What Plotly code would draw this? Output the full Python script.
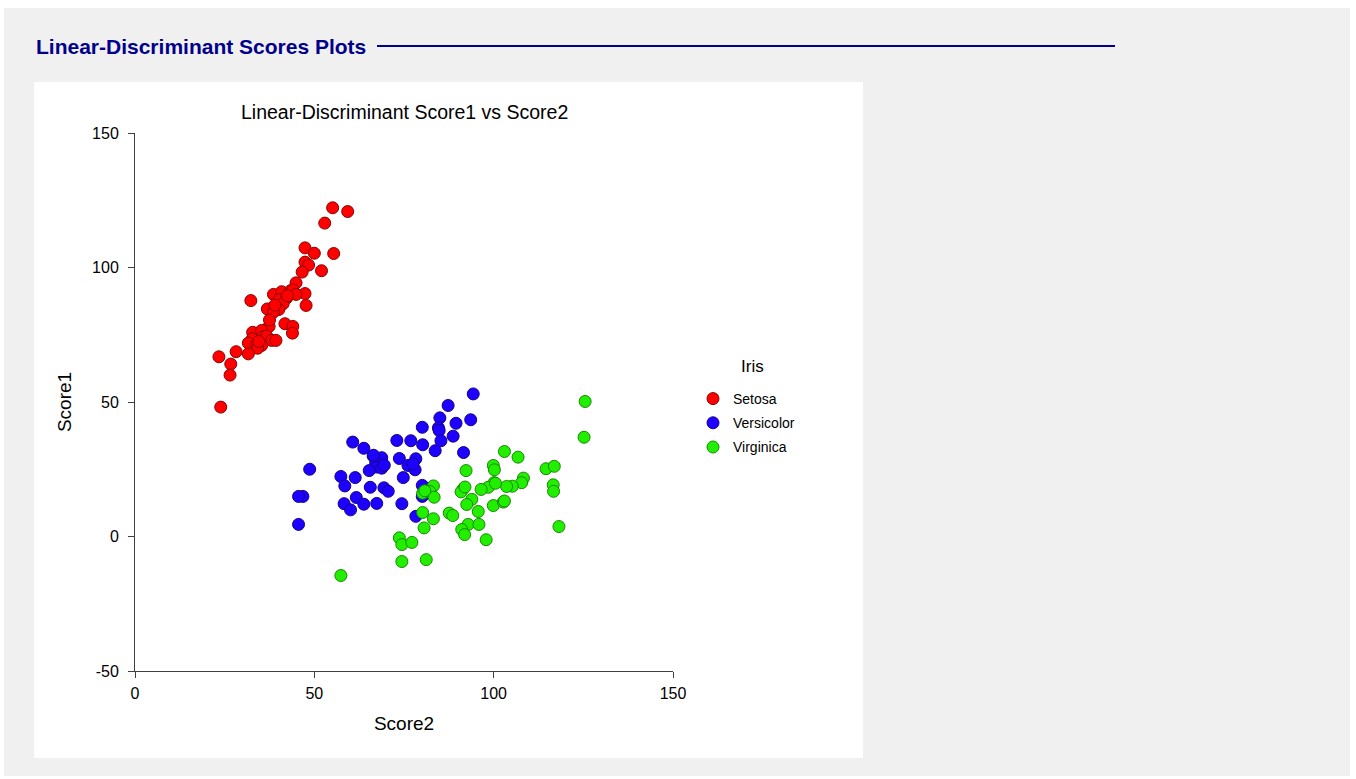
import plotly.graph_objects as go

# Linear-discriminant scores for the three iris species
setosa_score2 = [55.1, 59.3, 52.9, 47.4, 50.0, 55.4, 47.4, 48.4, 46.6, 52.0,
                 44.9, 38.6, 40.9, 43.4, 44.0, 47.4, 44.9, 40.2, 42.3, 32.3,
                 41.3, 47.7, 36.9, 40.1, 38.6, 41.8, 44.0, 43.9, 37.4, 32.8,
                 35.3, 35.8, 32.7, 36.7, 38.1, 39.3, 31.6, 33.9, 35.3, 34.2,
                 31.6, 28.2, 23.4, 26.7, 26.5, 23.9, 37.5, 42.5, 34.5, 39.0]
setosa_score1 = [122.2, 120.8, 116.5, 107.3, 105.3, 105.2, 102.0, 100.9, 98.3, 98.8,
                 94.3, 90.0, 91.0, 91.4, 91.7, 90.3, 90.0, 88.1, 88.7, 87.7,
                 86.5, 85.9, 84.6, 84.4, 83.4, 79.1, 78.1, 75.6, 78.1, 75.9,
                 76.6, 74.3, 73.5, 74.5, 72.9, 72.9, 71.9, 71.4, 71.0, 70.0,
                 67.9, 68.7, 66.8, 64.1, 60.0, 48.1, 80.5, 89.5, 72.5, 86.0]

versicolor_score2 = [94.3, 87.3, 85.0, 93.6, 89.5, 80.1, 84.6, 84.8, 88.7, 85.3,
                     73.0, 76.9, 80.2, 60.7, 63.8, 83.7, 91.6, 66.4, 68.8, 73.7,
                     78.3, 67.1, 76.1, 67.4, 65.3, 68.8, 78.1, 48.7, 57.4, 61.4,
                     74.8, 58.5, 65.6, 69.4, 70.6, 80.1, 61.7, 46.8, 45.6, 58.3,
                     63.8, 67.4, 74.4, 60.1, 78.3, 45.6, 80.1, 77.5, 69.5, 66.5]
versicolor_score1 = [53.0, 48.7, 44.1, 43.4, 42.1, 40.6, 40.4, 39.4, 37.3, 35.6,
                     35.7, 35.6, 34.1, 35.1, 32.8, 31.9, 31.2, 29.9, 29.3, 29.0,
                     28.9, 27.4, 26.4, 25.8, 24.5, 25.4, 24.8, 25.0, 22.3, 21.9,
                     21.9, 18.8, 18.3, 18.1, 16.8, 19.0, 14.5, 14.9, 14.9, 12.2,
                     12.0, 12.3, 12.2, 9.9, 7.5, 4.5, 14.9, 27.0, 26.5, 30.2]

virginica_score2 = [125.5, 125.2, 103.0, 106.8, 92.3, 99.9, 100.2, 114.6, 116.9, 108.3,
                    107.8, 105.2, 103.6, 100.1, 98.5, 96.5, 116.6, 116.7, 83.2, 82.2,
                    83.4, 80.2, 91.5, 90.9, 93.9, 92.5, 99.9, 102.7, 95.7, 87.6,
                    88.6, 80.2, 83.2, 80.6, 92.9, 95.9, 91.1, 91.9, 118.2, 97.9,
                    73.7, 74.4, 77.2, 74.4, 81.2, 57.4, 80.8, 92.0, 103.0, 100.5]
virginica_score1 = [50.2, 36.9, 31.6, 29.5, 24.5, 26.4, 24.8, 25.2, 26.1, 21.7,
                    20.0, 18.7, 18.6, 20.0, 18.3, 17.5, 19.2, 16.8, 18.8, 16.7,
                    14.6, 16.1, 17.7, 16.6, 13.8, 11.9, 11.5, 12.8, 9.3, 8.7,
                    7.8, 8.9, 6.6, 3.2, 4.5, 4.5, 2.6, 0.7, 3.7, -1.2,
                    -0.5, -3.0, -2.2, -9.3, -8.6, -14.5, 17.0, 18.4, 13.2, 19.8]

species = ["Setosa", "Versicolor", "Virginica"]
colors = ["#ff0000", "#1e00ff", "#22ee00"]
outlines = ["#8a0000", "#14008a", "#148a00"]
xs = [setosa_score2, versicolor_score2, virginica_score2]
ys = [setosa_score1, versicolor_score1, virginica_score1]

x_ticks = [0, 50, 100, 150]
x_tick_labels = ["0", "50", "100", "150"]
y_ticks = [-50, 0, 50, 100, 150]
y_tick_labels = ["-50", "0", "50", "100", "150"]

W, H = 1356, 779
L, R, T, B = 135, 673, 133, 671  # plot area edges in pixels
PW, PH = R - L, B - T


def px_x(p):
    return (p - L) / PW


def px_y(p):
    return (B - p) / PH


FONT = "Arial, Liberation Sans, sans-serif"
NAVY = "#00008b"
AXIS = "#404040"

fig = go.Figure()
for name, x, y, c, oc in zip(species, xs, ys, colors, outlines):
    fig.add_trace(go.Scatter(
        x=x, y=y, mode="markers", name=name, legendgroup=name,
        marker=dict(size=12, color=c, line=dict(color=oc, width=1)),
    ))

axis_common = dict(
    showgrid=False, zeroline=False, showline=True, linecolor=AXIS,
    linewidth=1, ticks="outside", ticklen=6, tickcolor=AXIS,
    tickfont=dict(family=FONT, size=16, color="#000000"),
    title_font=dict(family=FONT, size=19, color="#000000"),
)

fig.update_layout(
    width=W, height=H,
    margin=dict(l=L, r=W - R, t=T, b=H - B, autoexpand=False),
    paper_bgcolor="#ffffff", plot_bgcolor="#ffffff",
    font=dict(family=FONT, color="#000000"),
    xaxis=dict(range=[0, 150], tickvals=x_ticks, ticktext=x_tick_labels,
               title=dict(text="Score2", standoff=15), ticklabelstandoff=2,
               **axis_common),
    yaxis=dict(range=[-50, 150], tickvals=y_ticks, ticktext=y_tick_labels,
               title=dict(text="Score1", standoff=15), ticklabelstandoff=6,
               **axis_common),
    showlegend=True,
    legend=dict(
        x=px_x(693), y=px_y(383), xanchor="left", yanchor="top",
        xref="paper", yref="paper",
        font=dict(family=FONT, size=14, color="#000000"),
        tracegroupgap=3, bgcolor="rgba(0,0,0,0)",
    ),
    shapes=[
        # outer grey page
        dict(type="rect", xref="paper", yref="paper", layer="below",
             x0=px_x(4), x1=px_x(1350), y0=px_y(776), y1=px_y(8),
             fillcolor="#f0f0f0", line=dict(width=0)),
        # white chart panel
        dict(type="rect", xref="paper", yref="paper", layer="below",
             x0=px_x(34), x1=px_x(863), y0=px_y(758), y1=px_y(82),
             fillcolor="#ffffff", line=dict(width=0)),
        # rule after the section heading
        dict(type="line", xref="paper", yref="paper",
             x0=px_x(377), x1=px_x(1115), y0=px_y(46), y1=px_y(46),
             line=dict(color=NAVY, width=2)),
    ],
    annotations=[
        dict(text="<b>Linear-Discriminant Scores Plots</b>", xref="paper", yref="paper",
             x=px_x(34), y=px_y(46), xanchor="left", yanchor="middle", showarrow=False,
             font=dict(family=FONT, size=21, color=NAVY)),
        dict(text="Linear-Discriminant Score1 vs Score2", xref="paper", yref="paper",
             x=px_x(404), y=px_y(112), xanchor="center", yanchor="middle", showarrow=False,
             font=dict(family=FONT, size=19.5, color="#000000")),
        dict(text="Iris", xref="paper", yref="paper",
             x=px_x(752), y=px_y(366), xanchor="center", yanchor="middle", showarrow=False,
             font=dict(family=FONT, size=17, color="#000000")),
    ],
)

fig.write_html("out.html")
